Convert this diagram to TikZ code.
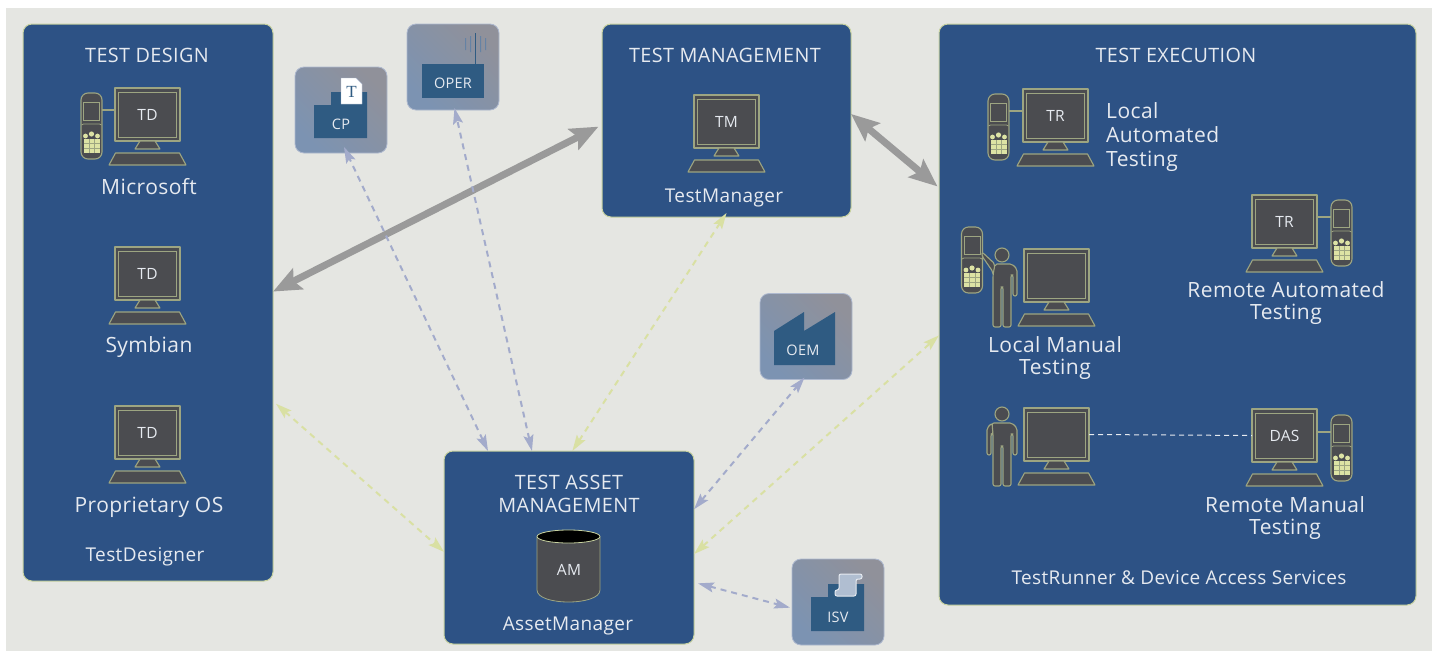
\documentclass[tikz,border=0pt]{standalone}
\usepackage{fontspec}
\setmainfont[LetterSpace=2]{Open Sans}
\newfontfamily\serifT{Liberation Serif}
\usetikzlibrary{arrows.meta}
\definecolor{pagegrey}{HTML}{E5E6E2}
\definecolor{panelblue}{HTML}{2D5285}
\definecolor{paneledge}{HTML}{C8D2A0}
\definecolor{screengrey}{HTML}{4B4C50}
\definecolor{screenedge}{HTML}{9DA581}
\definecolor{keypale}{HTML}{DDE3A4}
\definecolor{boxdark}{HTML}{2F5B82}
\definecolor{boxleft}{HTML}{7C93B2}
\definecolor{boxright}{HTML}{90919A}
\definecolor{boxedge}{HTML}{AEB9CF}
\definecolor{textpale}{HTML}{E6EAF0}
\definecolor{linkblue}{HTML}{A3ABCB}
\definecolor{linkgreen}{HTML}{D9E0A3}
\definecolor{linkgrey}{HTML}{9A9A9A}
\newcommand{\biglabel}{\fontsize{21}{22}\selectfont}
\newcommand{\headlabel}{\fontsize{19.8}{23}\selectfont}
\newcommand{\namelabel}{\fontsize{19}{23}\selectfont}
\newcommand{\smalllabel}{\fontsize{15.5}{16}\selectfont}
\newcommand{\boxlabel}{\fontsize{14.5}{16}\selectfont}
\newcommand{\linkphone}[3]{\draw[gear] (#1p-body.#2 |- #1p-screen) -- (#1-mon.#3 |- #1p-screen);}

\begin{document}
\begin{tikzpicture}[
    x=1pt, y=-1pt,
    panel/.style={draw=paneledge, line width=1pt, fill=panelblue, rounded corners=9pt, outer sep=0pt, inner sep=0pt},
    partner/.style={draw=boxedge, line width=.8pt, rounded corners=9pt, outer sep=0pt, inner sep=0pt,
        minimum width=92pt, minimum height=86pt, left color=boxleft, right color=boxright, shading angle=135},
    lbl/.style={text=textpale, font=\biglabel, align=center, inner sep=0pt},
    head/.style={lbl, font=\headlabel},
    owner/.style={lbl, font=\namelabel},
    tag/.style={text=textpale, font=\smalllabel, inner sep=0pt},
    boxtag/.style={text=textpale, font=\boxlabel, inner sep=0pt},
    gear/.style={draw=screenedge, line width=1.1pt, fill=screengrey, line join=round},
    dark/.style={fill=boxdark},
    fat/.style={<->, >={Stealth[length=28pt, width=23pt, inset=5pt]}, draw=linkgrey, line width=7pt},
    thinlink/.style={<->, >={Stealth[length=16pt, width=10pt, inset=3pt]}, line width=2pt, dash pattern=on 6pt off 5pt},
    pics/computer/.style={code={
        \node[gear, minimum width=65pt, minimum height=53pt, inner sep=0pt, outer sep=0pt,
              text=textpale, font=\smalllabel] (-mon) at (0,26.5) {\raisebox{-1.5pt}{#1}};
        \draw[screenedge, line width=1pt] (-29,4) rectangle (29,49);
        \draw[gear] (-7.5,53) -- (-12.5,61) -- (12.5,61) -- (7.5,53) -- cycle;
        \draw[gear] (-32,65) -- (32,65) -- (38.5,77) -- (-38.5,77) -- cycle;
    }},
    pics/phone/.style={code={
        \node[gear, minimum width=21pt, minimum height=66pt, rounded corners=7pt, inner sep=0pt, outer sep=0pt] (-body) at (0,33) {};
        \coordinate (-screen) at (0,17);
        \draw[screenedge, line width=1pt] (-8,9) rectangle (8,27);
        \draw[screenedge, line width=.7pt] (-10,32) -- (-8,31) -- (8,31) -- (10,32);
        \fill[keypale] (-6,43) circle [radius=2.4] (0,41) circle [radius=2.6] (6,43) circle [radius=2.4];
        \fill[keypale] (-8,46) rectangle (8,60);
        \foreach \k in {-2.7,2.7} \draw[screenedge, line width=.3pt] (\k,46) -- (\k,60);
        \foreach \k in {50.5,55} \draw[screenedge, line width=.3pt] (-8,\k) -- (8,\k);
    }},
    pics/person/.style={code={
        \draw[gear] (0,0) circle [radius=7];
        \draw[gear, rounded corners=2pt] #1 (10,9) -- (15,14) -- (15,41) -- (11,41) -- (11,20) -- (9,20)
            -- (9,72) -- (1,72) -- (1,32) -- (-1,32) -- (-1,72) -- (-9,72) -- (-9,20) -- cycle;
    }},
]
\useasboundingbox (0,0) rectangle (1436,651);
\fill[pagegrey] (6,8) rectangle (1432,651);

\node[panel, minimum width=250pt, minimum height=557pt] (design) at (148,302.5) {};
\node[panel, minimum width=249pt, minimum height=193pt] (manage) at (726.5,120.5) {};
\node[panel, minimum width=477pt, minimum height=581pt] (execute) at (1177.5,314.5) {};
\node[panel, minimum width=250pt, minimum height=193pt] (asset) at (569,547.5) {};

\node[partner] (cp) at (341,110) {};
\node[partner] (oper) at (453,67) {};
\node[partner] (oem) at (806,336.5) {};
\node[partner] (isv) at (838,602) {};

\draw[fat, shorten >=4pt] (design.5.7) -- (manage.182.5);
\draw[fat, shorten >=2pt] (manage.3.4) -- (execute.152.2);
\draw[thinlink, linkblue] (asset.130.7) -- ([yshift=6pt]cp.274.7);
\draw[thinlink, linkblue] (asset.111.5) -- ([yshift=2pt]oper.272.7);
\draw[thinlink, linkblue] (asset.17.5) -- ([yshift=2pt]oem.268.7);
\draw[thinlink, linkblue] ([xshift=4pt]asset.-16.3) -- ([xshift=-2pt]isv.187.4);
\draw[thinlink, linkgreen] ([xshift=3pt]design.-39.4) -- (asset.182.5);
\draw[thinlink, linkgreen] (asset.88.2) -- ([yshift=4pt]manage.270);
\draw[thinlink, linkgreen] (asset.-3) -- (execute.185.4);

\foreach \name/\x/\y/\tagtext in {td1/147.5/88/TD, td2/147.5/247/TD, td3/147.5/406/TD, tm/726.5/95/TM,
        tr1/1055.5/89/TR, tr2/1284.5/195/TR, das/1284.5/409/DAS, lm/1056.5/249/, rm/1056.5/408/}
    \pic (\name) at (\x,\y) {computer=\tagtext};
\foreach \name/\x/\y in {td1p/91.5/93, tr1p/998.5/94, tr2p/1341.5/200, dasp/1341.5/415, lmp/972/227}
    \pic (\name) at (\x,\y) {phone};
\linkphone{td1}{east}{west}
\linkphone{tr1}{east}{west}
\linkphone{tr2}{west}{east}
\linkphone{das}{west}{east}
\pic (lmman) at (1002,255) {person={(-7,9) -- (-20,-3) -- (-20,1) -- (-9,17) -- (-9,20) -- (-7,9) --}};
\pic (rmman) at (1002,414) {person={(-10,9) -- (-15,14) -- (-15,41) -- (-11,41) -- (-11,20) -- (-9,20) -- (-10,9) --}};
\draw[textpale, line width=1pt, dash pattern=on 5pt off 4pt] (rm-mon.east) -- (das-mon.west);

\draw[gear, line width=.8pt] (537,537) -- (537,590) .. controls (537,606) and (600,606) .. (600,590) -- (600,537) -- cycle;
\draw[paneledge, line width=.8pt, fill=black] (568.5,536.5) ellipse [x radius=31.5, y radius=6.5];
\node[tag] (amtag) at (569,570) {AM};

\fill[dark] (314,138) -- (314,105) -- (331,105) -- (331,92) -- (367,92) -- (367,138) -- cycle;
\draw[boxedge, fill=white, line width=.4pt] (341,78) -- (356,78) -- (362,84) -- (362,104) -- (341,104) -- cycle;
\node[text=boxdark, font=\serifT\fontsize{17}{17}\selectfont, inner sep=0pt] (cppaper) at (351.5,92) {T};
\node[boxtag] (cptag) at (341,124) {CP};

\fill[boxleft!70!boxdark] (465,38) rectangle (466,50) (470,36) rectangle (471,52) (480,36) rectangle (481,52) (485,38) rectangle (486,50);
\fill[dark] (474.5,33) rectangle (476,64);
\fill[dark] (422,64) rectangle (484,98);
\node[boxtag] (opertag) at (453,83) {OPER};

\fill[dark] (774,365) -- (774,331) -- (804,312) -- (804,331) -- (835,312) -- (835,365) -- cycle;
\node[boxtag] (oemtag) at (803,350) {OEM};

\fill[dark] (811,631) -- (811,597) -- (828,597) -- (828,584) -- (864,584) -- (864,631) -- cycle;
\draw[textpale, fill=boxleft!60!white, line width=1pt, rounded corners=2pt] (839,574) -- (862,574) -- (862,579) -- (856,579) -- (856,596) -- (835,596) -- (835,590) -- (839,590) -- cycle;
\node[boxtag] (isvtag) at (838,617) {ISV};

\node[head] (designhead) at (147,55) {TEST DESIGN};
\node[lbl] (mslabel) at (149,187) {Microsoft};
\node[lbl] (symlabel) at (149,347) {Symbian};
\node[lbl] (oslabel) at (149,507) {Proprietary OS};
\node[owner] (tdlabel) at (145,557) {TestDesigner};
\node[head] (managehead) at (725,55) {TEST MANAGEMENT};
\node[owner] (tmlabel) at (724,198) {TestManager};
\node[head] (exechead) at (1176,55) {TEST EXECUTION};
\node[lbl, align=left, anchor=west, text depth=0pt] (latlabel) at (1106,111) {Local};
\node[lbl, align=left, anchor=west] (latlabelb) at (1106,135) {Automated};
\node[lbl, align=left, anchor=west] (latlabelc) at (1106,161) {Testing};
\node[lbl] (ratlabel) at (1286,303) {Remote Automated\\Testing};
\node[lbl] (lmtlabel) at (1055,358) {Local Manual\\Testing};
\node[lbl] (rmtlabel) at (1285,518) {Remote Manual\\Testing};
\node[owner] (trlabel) at (1179,578) {TestRunner \& Device Access Services};
\node[head] (assethead) at (569,493.5) {TEST ASSET\\MANAGEMENT};
\node[owner] (amlabel) at (568,626) {AssetManager};

\end{tikzpicture}
\end{document}
